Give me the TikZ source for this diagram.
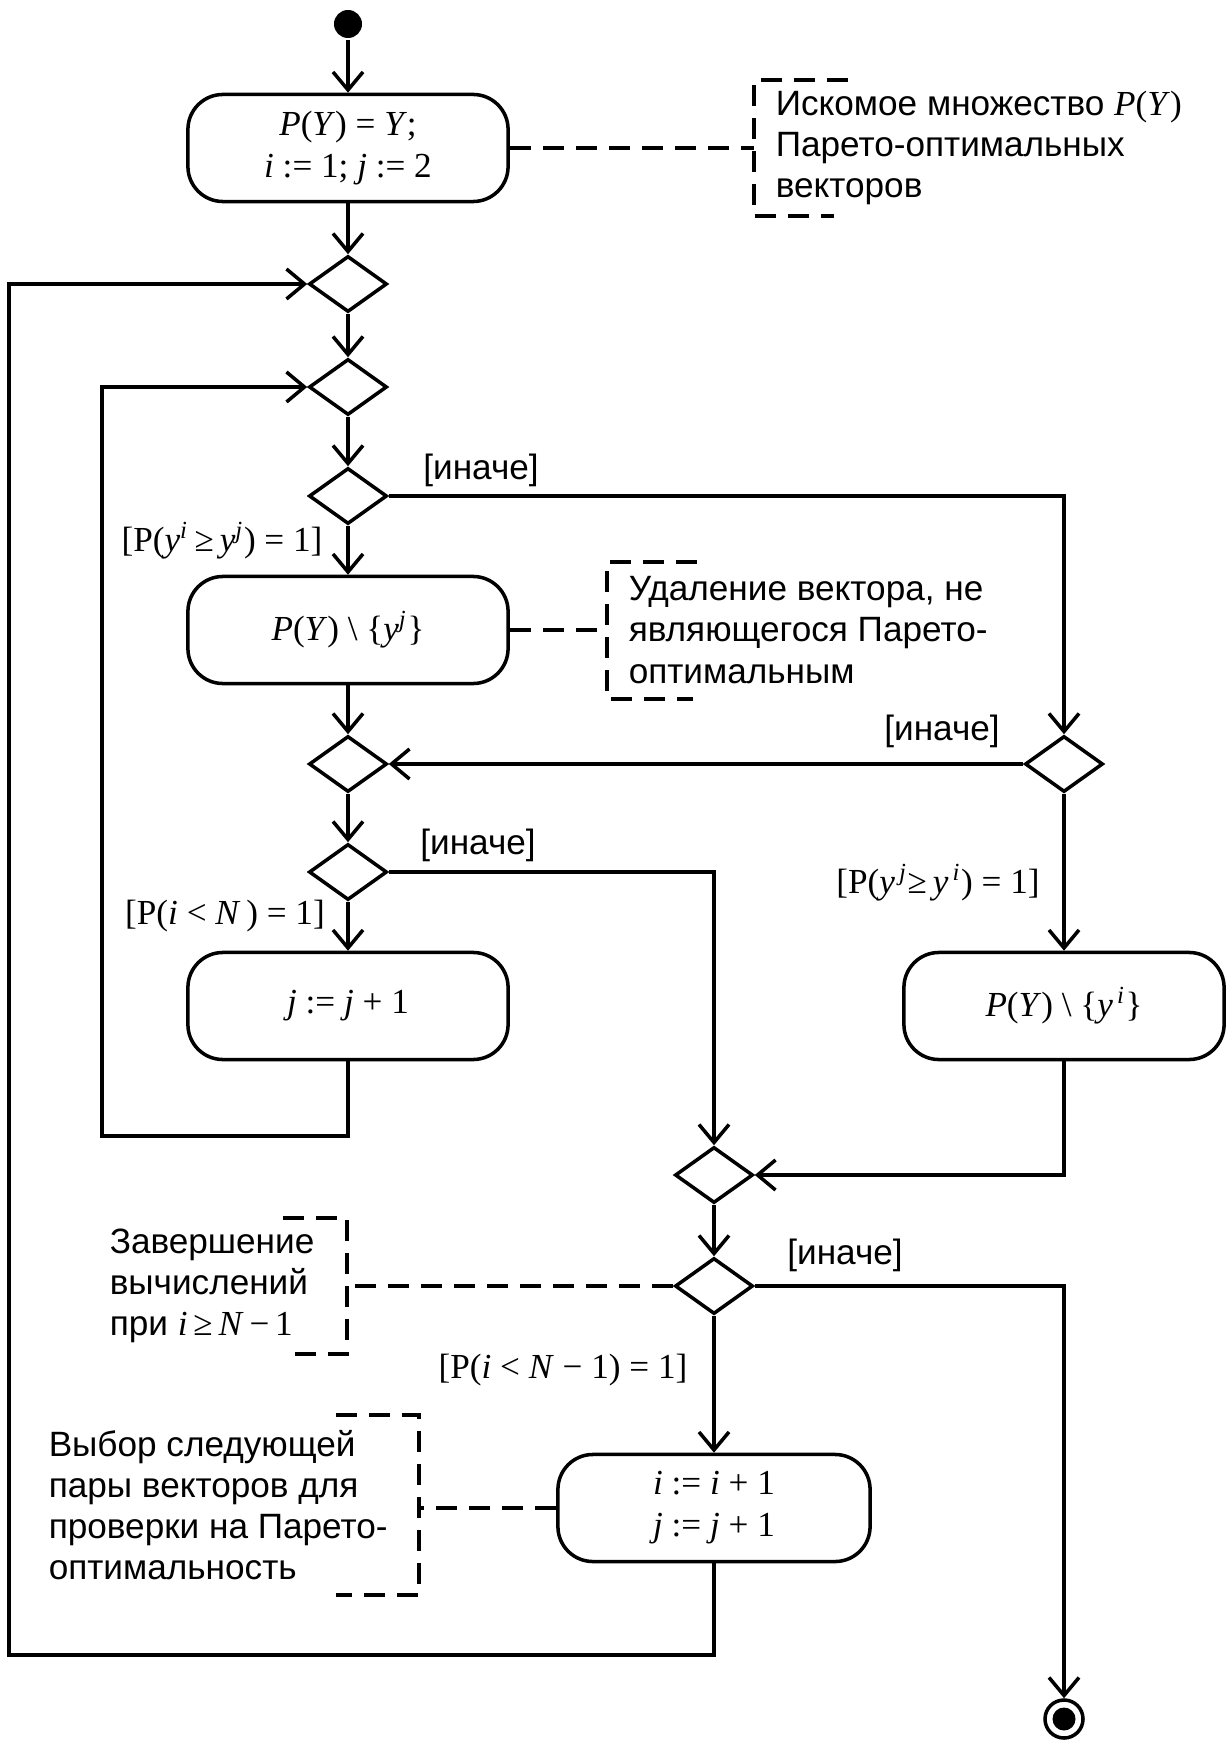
\documentclass[tikz,border=0pt]{standalone}
\usepackage{fontspec}
\setmainfont{Liberation Sans}
\newfontfamily\tms{Liberation Serif}
\usetikzlibrary{shapes.geometric,arrows.meta}
\newcommand{\vi}[1]{\textit{#1}}

\begin{document}
\begin{tikzpicture}[x=0.01cm,y=-0.01cm,line width=1pt,
    font=\fontsize{10}{11.7}\selectfont,
    act/.style={draw,rounded corners=3.5mm,minimum width=3.2cm,minimum height=1.07cm,align=center,font=\tms\fontsize{10}{11.9}\selectfont},
    dec/.style={draw,diamond,minimum width=7.8mm,minimum height=5.6mm,inner sep=0pt},
    arr/.style={-{Straight Barb[length=1.8mm,width=3mm]}},
    note/.style={dash pattern=on 2.1mm off 1.2mm},
    guard/.style={inner sep=0pt},
    cmt/.style={align=left,inner sep=0pt}]
    \useasboundingbox (0,0) rectangle (1229,1740);
    \coordinate (b1) at (754,148);
    \coordinate (b2) at (607,630);
    \coordinate (b3) at (347,1286);
    \coordinate (b4) at (419,1508);
    \coordinate (c3) at (102,1136);
    \coordinate (c5) at (9,1655);
      \node [fill,circle,minimum size=2.8mm,inner sep=0pt] (st) at (348,24) {};
      \node [act] (a1) at (348,148) {\vi{P}(\vi{Y}) = \vi{Y};\\ \vi{i} := 1; \vi{j} := 2};
      \node [dec] (d1) at (348,284) {};
      \node [dec] (d2) at (348,387) {};
      \node [dec] (d3) at (348,496) {};
      \node [act] (a2) at (348,630) {\vi{P}(\vi{Y}) \textbackslash\ \{\vi{y}\textsuperscript{\vi{j}}\}};
      \node [dec] (d4) at (348,764) {};
      \node [dec] (d5) at (348,872) {};
      \node [act] (a3) at (348,1006) {\vi{j} := \vi{j} + 1};
      \node [dec] (dr) at (1064,764) {};
      \node [act] (a4) at (1064,1006) {\vi{P}(\vi{Y}) \textbackslash\ \{\vi{y}\textsuperscript{\,\vi{i}}\}};
      \node [dec] (d6) at (714,1175) {};
      \node [dec] (d7) at (714,1286) {};
      \node [act,minimum width=3.12cm] (a5) at (714,1508) {\vi{i} := \vi{i} + 1\\ \vi{j} := \vi{j} + 1};
      \node [draw,circle,minimum size=3.8mm,inner sep=0pt,
        path picture={\fill (path picture bounding box.center) circle (1.15mm);}] (en) at (1064,1719) {};
      \node [cmt,anchor=west] (n1) at (774,148) {Искомое множество {\tms\vi{P}(\vi{Y})}\\Парето-оптимальных\\векторов};
      \node [cmt,anchor=west] (n2) at (627,630) {Удаление вектора, не\\являющегося Парето-\\оптимальным};
      \node [cmt,anchor=west] (n3) at (108,1286) {Завершение\\вычислений\\при {\tms\vi{i}\,≥\,\vi{N}\,−\,1}};
      \node [cmt,anchor=west] (n4) at (47,1505) {Выбор следующей\\пары векторов для\\проверки на Парето-\\оптимальность};
      \node [guard] (g1) at (481,470) {[иначе]};
      \node [guard,font=\tms] (g2) at (222,541) {[P(\vi{y}\textsuperscript{\vi{i}}\,≥\,\vi{y}\textsuperscript{\vi{j}}) = 1]};
      \node [guard] (g3) at (942,731) {[иначе]};
      \node [guard,font=\tms] (g4) at (938,883) {[P(\vi{y}\textsuperscript{\,\vi{j}}≥\,\vi{y}\textsuperscript{\,\vi{i}}) = 1]};
      \node [guard] (g5) at (478,845) {[иначе]};
      \node [guard,font=\tms] (g6) at (225,916) {[P(\vi{i} < \vi{N}\,) = 1]};
      \node [guard] (g7) at (845,1255) {[иначе]};
      \node [guard,font=\tms] (g8) at (563,1370) {[P(\vi{i} < \vi{N} − 1) = 1]};
      \draw [arr] (st) -- (a1);
      \draw [arr] (a1) -- (d1);
      \draw [arr] (d1) -- (d2);
      \draw [arr] (d2) -- (d3);
      \draw [arr] (d3) -- (a2);
      \draw [arr] (d3.east) -| (dr.north);
      \draw [arr] (a2) -- (d4);
      \draw [arr] (dr.west) -- (d4.east);
      \draw [arr] (d4) -- (d5);
      \draw [arr] (d5) -- (a3);
      \draw [arr] (d5.east) -| (d6.north);
      \draw [arr] (dr) -- (a4);
      \draw [arr] (a4.south) |- (d6.east);
      \draw [arr] (a3.south) |- (c3) |- (d2.west);
      \draw [arr] (d6) -- (d7);
      \draw [arr] (d7) -- (a5);
      \draw [arr] (d7.east) -| (en.north);
      \draw [arr] (a5.south) |- (c5) |- (d1.west);
      \draw [note] (a1.east) -- (b1);
      \draw [note] (848,80) -- (754,80) -- (754,216) -- (834,216);
      \draw [note] (a2.east) -- (b2);
      \draw [note] (697,562) -- (607,562) -- (607,699) -- (693,699);
      \draw [note] (d7.west) -- (b3);
      \draw [note] (283,1218) -- (347,1218) -- (347,1354) -- (283,1354);
      \draw [note] (a5.west) -- (b4);
      \draw [note] (336,1415) -- (419,1415) -- (419,1595) -- (336,1595);
  \end{tikzpicture}
\end{document}
